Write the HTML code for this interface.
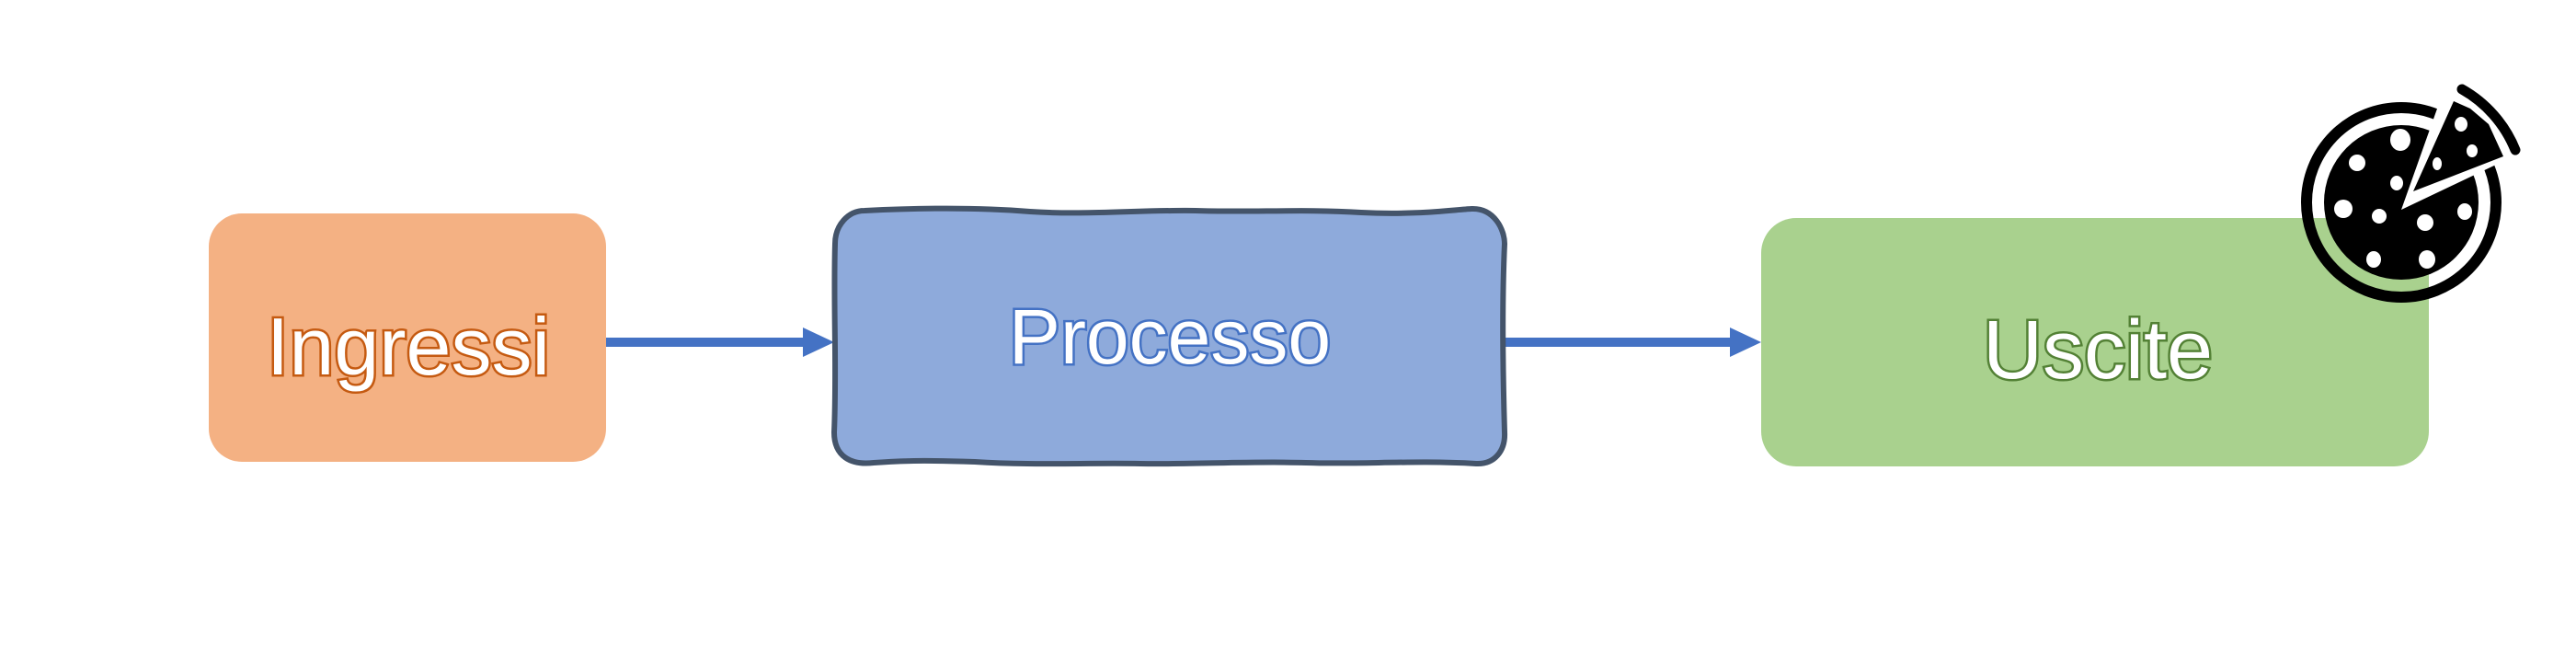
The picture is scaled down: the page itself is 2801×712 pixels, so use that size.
<!DOCTYPE html>
<html><head><meta charset="utf-8"><style>
html,body{margin:0;padding:0;background:#fff;}
svg{display:block}
</style></head><body>
<svg width="2801" height="712" viewBox="0 0 2801 712" xmlns="http://www.w3.org/2000/svg">
<rect width="2801" height="712" fill="#fff"/>
<!-- arrows -->
<rect x="659" y="367" width="218" height="10" fill="#4472c4"/>
<polygon points="873,356 907,372 873,388" fill="#4472c4"/>
<rect x="1635" y="367" width="248" height="10" fill="#4472c4"/>
<polygon points="1881,356 1915,372 1881,388" fill="#4472c4"/>
<!-- Ingressi -->
<rect x="227" y="232" width="432" height="270" rx="36" fill="#f4b183"/>
<text x="444" y="407" text-anchor="middle" font-family="Liberation Sans, sans-serif" font-size="88" fill="#fff" stroke="#c55a11" stroke-width="5" paint-order="stroke">Ingressi</text>
<!-- Processo -->
<path d="M940,229 C1000,226 1060,225 1120,230 C1180,234 1240,228 1300,229 C1360,231 1420,227 1480,231 C1540,234 1580,228 1600,227 C1625,226 1636,250 1636,265 C1633,330 1634,400 1636,470 C1637,490 1625,505 1605,504 C1540,500 1480,505 1420,503 C1360,501 1300,505 1240,504 C1180,503 1120,506 1060,502 C1000,500 980,501 950,503 C925,506 907,496 907,470 C910,400 906,330 908,265 C908,245 922,229 940,229 Z" fill="#8eaadb" stroke="#44546a" stroke-width="6"/>
<text x="1272" y="395" text-anchor="middle" font-family="Liberation Sans, sans-serif" font-size="84" fill="#fff" stroke="#4472c4" stroke-width="5" paint-order="stroke">Processo</text>
<!-- Uscite -->
<rect x="1915" y="237" width="726" height="270" rx="38" fill="#a9d18e"/>
<text x="2281" y="411" text-anchor="middle" font-family="Liberation Sans, sans-serif" font-size="90" fill="#fff" stroke="#538135" stroke-width="5" paint-order="stroke">Uscite</text>
<!-- Pizza -->
<g transform="translate(-6,0)">
<circle cx="2617" cy="220" r="103" fill="none" stroke="#000" stroke-width="12"/>
<circle cx="2617" cy="220" r="84" fill="#000"/>
<polygon points="2617,228 2666,90 2760,160" fill="#fff"/>
<polygon points="2630,208 2674,110 2692,118 2712,135 2728,170" fill="#000"/>
<path d="M2683,97 A133,133 0 0 1 2741,163" fill="none" stroke="#000" stroke-width="11" stroke-linecap="round"/>
<g fill="#fff">
<ellipse cx="2682" cy="135" rx="7" ry="8"/>
<ellipse cx="2694" cy="164" rx="6" ry="7"/>
<ellipse cx="2656" cy="178" rx="5" ry="7"/>
<ellipse cx="2616" cy="152" rx="11" ry="12"/>
<ellipse cx="2569" cy="177" rx="9" ry="9"/>
<ellipse cx="2612" cy="199" rx="7" ry="8"/>
<ellipse cx="2554" cy="227" rx="10" ry="10"/>
<ellipse cx="2593" cy="235" rx="8" ry="8"/>
<ellipse cx="2643" cy="242" rx="9" ry="9"/>
<ellipse cx="2686" cy="230" rx="8" ry="9"/>
<ellipse cx="2587" cy="282" rx="8" ry="9"/>
<ellipse cx="2645" cy="282" rx="9" ry="10"/>
</g>
</g>
</svg>
</body></html>
